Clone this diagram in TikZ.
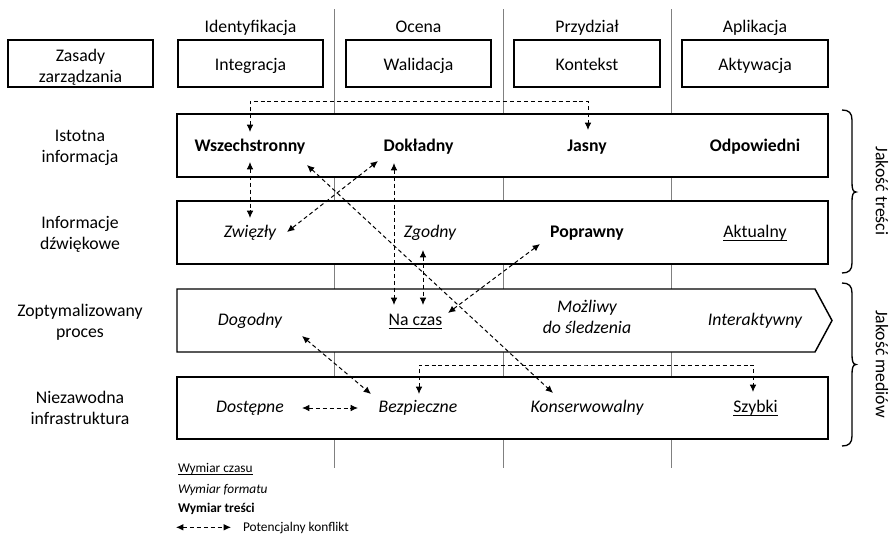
\documentclass[tikz,border=0pt]{standalone}
\usepackage{fontspec}
\setmainfont{Carlito}
\usetikzlibrary{arrows.meta}

% text sizes
\newcommand\mainsize{\fontsize{13.3}{15.75}\selectfont}
\newcommand\legsize{\fontsize{10}{12}\selectfont}
% underline with a fixed drop below the baseline
\newcommand\ulx[2][2.8pt]{\setbox0=\hbox{#2}\rlap{\rule[-#1]{\wd0}{0.7pt}}\box0}

\tikzset{
  every node/.style={inner sep=0pt, outer sep=0pt},
  txt/.style={font=\mainsize, anchor=base},
  lab/.style={font=\mainsize, align=center},
  leg/.style={font=\legsize, anchor=base west},
  frame/.style={draw=black, line width=1.1pt, fill=white},
  grid/.style={draw=black!50, line width=0.75pt},
  conflict/.style={line width=0.75pt, dash pattern=on 3pt off 2.2pt,
    {Latex[length=5.5pt,width=5pt]}-{Latex[length=5.5pt,width=5pt]}},
  brace/.style={line width=1pt}
}

\begin{document}
\begin{tikzpicture}[x=0.75pt, y=-0.75pt]
\path[use as bounding box] (0,0) rectangle (890,533);

% column separators
\draw[grid] (334,9) -- (334,468);
\draw[grid] (503,9) -- (503,468);
\draw[grid] (671,9) -- (671,468);

% column headers
\node[txt] (hId) at (250.5,32) {Identyfikacja};
\node[txt] (hOc) at (418.5,32) {Ocena};
\node[txt] (hPr) at (587,32) {Przydział};
\node[txt] (hAp) at (755,32) {Aplikacja};

% top row of boxes
\draw[frame] (8,40) rectangle (153,87);
\draw[frame] (178,40) rectangle (323,87);
\draw[frame] (346,40) rectangle (491,87);
\draw[frame] (514,40) rectangle (660,87);
\draw[frame] (682,40) rectangle (828,87);
\node[lab] (tZas) at (80.5,67.3) {\strut Zasady\\\strut zarządzania};
\node[txt] (tInt) at (250.5,70.5) {Integracja};
\node[txt] (tWal) at (418.5,70.5) {Walidacja};
\node[txt] (tKon) at (587,70.5) {Kontekst};
\node[txt] (tAkt) at (755,70.5) {Aktywacja};

% row bands
\draw[frame] (177,114) rectangle (828,177);
\draw[frame] (177,201) rectangle (828,264);
\draw[frame] (177,289) -- (815,289) -- (832,320.5) -- (815,352) -- (177,352) -- cycle;
\draw[frame] (177,377) rectangle (828,439);

% row labels
\node[lab] (rIst) at (80,147.3) {\strut Istotna\\\strut informacja};
\node[lab] (rInf) at (80,234.3) {\strut Informacje\\\strut dźwiękowe};
\node[lab] (rZop) at (80,322.3) {\strut Zoptymalizowany\\\strut proces};
\node[lab] (rNie) at (80,409.8) {\strut Niezawodna\\\strut infrastruktura};

% row 1
\node[txt] (wsz) at (250,151) {\bfseries Wszechstronny};
\node[txt] (dok) at (418.5,151) {\bfseries Dokładny};
\node[txt] (jas) at (587,151) {\bfseries Jasny};
\node[txt] (odp) at (755,151) {\bfseries Odpowiedni};
% row 2
\node[txt] (zwi) at (250,237) {\itshape Zwięzły};
\node[txt] (zgo) at (430,237) {\itshape Zgodny};
\node[txt] (pop) at (587,237) {\bfseries Poprawny};
\node[txt] (akt) at (755,237) {\ulx{Aktualny}};
% row 3
\node[txt] (dog) at (250,325) {\itshape Dogodny};
\node[txt] (nac) at (415.5,325) {\ulx{Na czas}};
\node[lab, font=\mainsize\itshape] (moz) at (587,318.3) {\strut Możliwy\\\strut do śledzenia};
\node[txt] (int) at (755,325) {\itshape Interaktywny};
% row 4
\node[txt] (dos) at (250,412) {\itshape Dostępne};
\node[txt] (bez) at (418,412) {\itshape Bezpieczne};
\node[txt] (kns) at (587,412) {\itshape Konserwowalny};
\node[txt] (szy) at (755.5,412) {\ulx{Szybki}};

% connector end points
\coordinate (wszT) at (250,132);
\coordinate (wszB) at (250,162);
\coordinate (wszR) at (307,165);
\coordinate (jasT) at (588,130);
\coordinate (topMid) at (419,101);
\coordinate (dokL) at (378,161);
\coordinate (dokB) at (394,163);
\coordinate (zwiT) at (250,218);
\coordinate (zwiR) at (287,232);
\coordinate (zgoB) at (423,250);
\coordinate (popL) at (540,244);
\coordinate (nacL) at (394,305);
\coordinate (nacT) at (423,305);
\coordinate (nacR) at (448,313);
\coordinate (dogB) at (302,336);
\coordinate (bezL) at (371,394);
\coordinate (bezT) at (419,394);
\coordinate (bezW) at (358,408);
\coordinate (dosE) at (302,408);
\coordinate (knsT) at (553,393);
\coordinate (botMid) at (586,365);
\coordinate (szyT) at (753,392);

% potential conflicts
\draw[conflict] (wszT) |- (topMid) -| (jasT);
\draw[conflict] (wszB) -- (zwiT);
\draw[conflict] (dokL) -- (zwiR);
\draw[conflict] (wszR) -- (knsT);
\draw[conflict] (dokB) -- (nacL);
\draw[conflict] (zgoB) -- (nacT);
\draw[conflict] (popL) -- (nacR);
\draw[conflict] (dogB) -- (bezL);
\draw[conflict] (dosE) -- (bezW);
\draw[conflict] (bezT) |- (botMid) -| (szyT);

% quality braces
\draw[brace] (842,110) .. controls (849,110) and (852,113) .. (852,120) -- (852,183)
  .. controls (852,189) and (853,192) .. (856,192)
  .. controls (853,192) and (852,195) .. (852,201) -- (852,263)
  .. controls (852,270) and (849,273) .. (842,273);
\draw[brace] (842,283) .. controls (849,283) and (852,286) .. (852,293) -- (852,355)
  .. controls (852,361) and (853,364.5) .. (856,364.5)
  .. controls (853,364.5) and (852,368) .. (852,374) -- (852,436)
  .. controls (852,443) and (849,446) .. (842,446);
\node[font=\mainsize, rotate=-90] (jTre) at (882,191) {Jakość treści};
\node[font=\mainsize, rotate=-90] (jMed) at (882,364) {Jakość mediów};

% legend
\node[leg] (lCz) at (178,472) {\ulx[2pt]{Wymiar czasu}};
\node[leg] (lFo) at (178,493) {\itshape Wymiar formatu};
\node[leg] (lTr) at (178,512) {\bfseries Wymiar treści};
\coordinate (lgA) at (176,527.3);
\coordinate (lgB) at (231,527.3);
\draw[conflict] (lgA) -- (lgB);
\node[leg] (lKo) at (243,531) {Potencjalny konflikt};
\end{tikzpicture}
\end{document}
